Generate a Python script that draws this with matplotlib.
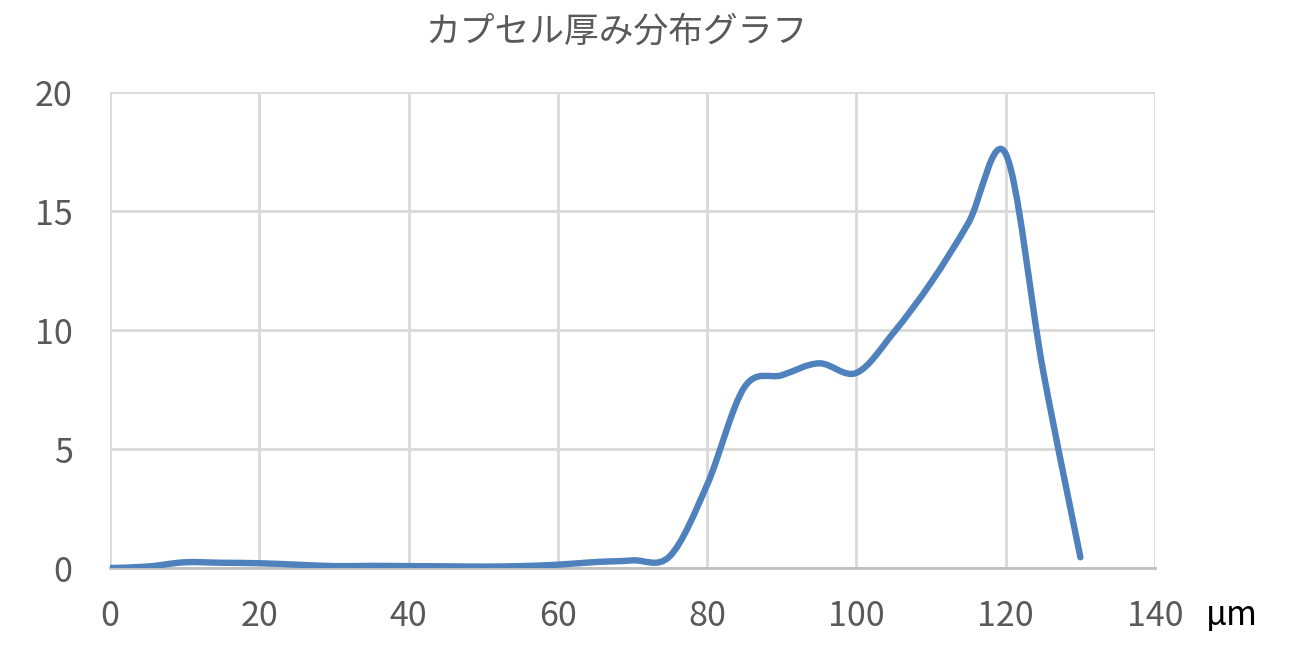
import numpy as np
import matplotlib.pyplot as plt
from matplotlib.path import Path
from matplotlib.patches import PathPatch

plt.rcParams['font.family'] = ['Noto Sans CJK JP', 'DejaVu Sans']

# データ（厚み µm / 度数）
thickness = [0, 5, 10, 15, 20, 25, 30, 35, 40, 45, 50, 55, 60, 65,
             70, 75, 80, 85, 90, 95, 100, 105, 110, 115, 120, 125, 130]
freq = [0.0, 0.06, 0.24, 0.22, 0.2, 0.14, 0.08, 0.09, 0.08, 0.07, 0.06, 0.08,
        0.14, 0.25, 0.32, 0.5, 3.5, 7.6, 8.1, 8.6, 8.2, 9.9, 12.0, 14.5,
        17.4, 8.3, 0.45]
x_ticks = [0, 20, 40, 60, 80, 100, 120, 140]
y_ticks = [0, 5, 10, 15, 20]

line_color = '#4F81BD'
text_color = '#595959'


# Excelの「スムージング」風の線（Catmull-Rom → ベジェ）
def smooth_path(xs, ys):
    p = np.column_stack([xs, ys]).astype(float)
    verts = [p[0]]
    codes = [Path.MOVETO]
    n = len(p)
    for i in range(n - 1):
        p0 = p[i - 1] if i > 0 else p[i]
        p3 = p[i + 2] if i + 2 < n else p[i + 1]
        c1 = p[i] + (p[i + 1] - p0) / 6.0
        c2 = p[i + 1] - (p3 - p[i]) / 6.0
        verts += [c1, c2, p[i + 1]]
        codes += [Path.CURVE4] * 3
    return Path(verts, codes)


fig = plt.figure(figsize=(13.01, 6.47), dpi=100)
ax = fig.add_axes([0.0846, 0.1221, 0.8032, 0.7357])

patch = PathPatch(smooth_path(thickness, freq), facecolor='none',
                  edgecolor=line_color, linewidth=4.6, capstyle='round',
                  joinstyle='round', zorder=3)
ax.add_patch(patch)

ax.set_xlim(0, 140)
ax.set_ylim(0, 20)
ax.set_xticks(x_ticks)
ax.set_yticks(y_ticks)
ax.grid(True, color='#D9D9D9', linewidth=2)
ax.set_axisbelow(True)
for side in ['top', 'right', 'left']:
    ax.spines[side].set_visible(False)
ax.spines['bottom'].set_color('#BFBFBF')
ax.spines['bottom'].set_linewidth(2)
ax.tick_params(length=0, labelsize=24.5, labelcolor=text_color)
ax.tick_params(axis='x', pad=22)
ax.tick_params(axis='y', pad=27)

fig.text(0.474, 0.950, 'カプセル厚み分布グラフ', ha='center', va='center',
         fontsize=25, color=text_color)
fig.text(0.947, 0.048, 'µm', ha='center', va='center', fontsize=24,
         color='black')

fig.savefig('out.png', dpi=100)
